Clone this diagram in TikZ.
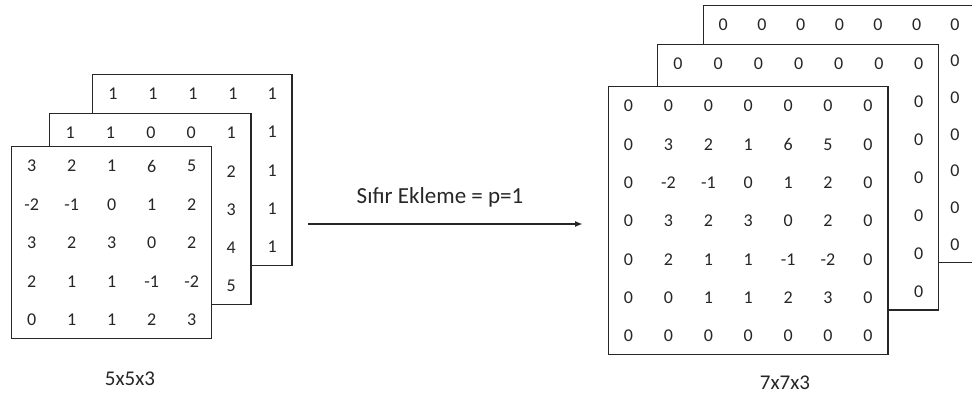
\documentclass[tikz,border=0pt]{standalone}
\usepackage{fontspec}
\setmainfont{Carlito}
\usetikzlibrary{matrix,arrows.meta}

\newcommand{\cellfont}{\fontsize{18}{18}\selectfont}

\begin{document}
\begin{tikzpicture}
  [x=1pt,y=-1pt,
   layer/.style={matrix of nodes,
                 draw=black!85,
                 fill=white,
                 line width=1.2pt,
                 inner sep=0pt,
                 font=\cellfont,
                 anchor=north west},
   cells/.style 2 args={nodes={minimum width=#1,
                               minimum height=#2,
                               inner sep=0pt,
                               text=black!85,
                               font=\cellfont}},
   lbl/.style={font=\fontsize{21}{21}\selectfont, text=black!85}]
  \useasboundingbox (0,0) rectangle (972,401);
  % left stack, back to front
  \matrix[layer,cells={39.4pt}{37.6pt}] (L3) at (92,74) {
    1 & 1 & 1 & 1 & 1 \\
      &   &   &   & 1 \\
      &   &   &   & 1 \\
      &   &   &   & 1 \\
      &   &   &   & 1 \\
  };
  \matrix[layer,cells={39.8pt}{37.6pt}] (L2) at (49,113) {
    1 & 1 & 0 & 0 & 1 \\
      &   &   &   & 2 \\
      &   &   &   & 3 \\
      &   &   &   & 4 \\
      &   &   &   & 5 \\
  };
  \matrix[layer,cells={40pt}{37.8pt}] (L1) at (11,146) {
     3 &  2 & 1 &  6 &  5 \\
    -2 & -1 & 0 &  1 &  2 \\
     3 &  2 & 3 &  0 &  2 \\
     2 &  1 & 1 & -1 & -2 \\
     0 &  1 & 1 &  2 &  3 \\
  };
  \node[lbl] (Lname) at (130,379) {5x5x3};
  % right stack, back to front
  \matrix[layer,cells={38.1pt}{36.1pt}] (R3) at (703,5) {
    0 & 0 & 0 & 0 & 0 & 0 & 0 \\
      &   &   &   &   &   & 0 \\
      &   &   &   &   &   & 0 \\
      &   &   &   &   &   & 0 \\
      &   &   &   &   &   & 0 \\
      &   &   &   &   &   & 0 \\
      &   &   &   &   &   & 0 \\
  };
  \matrix[layer,cells={39.6pt}{37.3pt}] (R2) at (657,44) {
    0 & 0 & 0 & 0 & 0 & 0 & 0 \\
      &   &   &   &   &   & 0 \\
      &   &   &   &   &   & 0 \\
      &   &   &   &   &   & 0 \\
      &   &   &   &   &   & 0 \\
      &   &   &   &   &   & 0 \\
      &   &   &   &   &   & 0 \\
  };
  \matrix[layer,cells={39.9pt}{37.7pt}] (R1) at (608,86) {
    0 &  0 &  0 & 0 &  0 &  0 & 0 \\
    0 &  3 &  2 & 1 &  6 &  5 & 0 \\
    0 & -2 & -1 & 0 &  1 &  2 & 0 \\
    0 &  3 &  2 & 3 &  0 &  2 & 0 \\
    0 &  2 &  1 & 1 & -1 & -2 & 0 \\
    0 &  0 &  1 & 1 &  2 &  3 & 0 \\
    0 &  0 &  0 & 0 &  0 &  0 & 0 \\
  };
  \node[lbl] (Rname) at (785,383) {7x7x3};
  % padding arrow
  \coordinate (from) at (308,224);
  \coordinate (to) at (583,224);
  \draw[line width=1.6pt,draw=black!85,
        -{Latex[length=8pt,width=6pt]}] (from) -- (to);
  \node[font=\fontsize{23}{23}\selectfont,text=black!85] (pad)
    at (440,197) {Sıfır Ekleme = p=1};
\end{tikzpicture}
\end{document}
